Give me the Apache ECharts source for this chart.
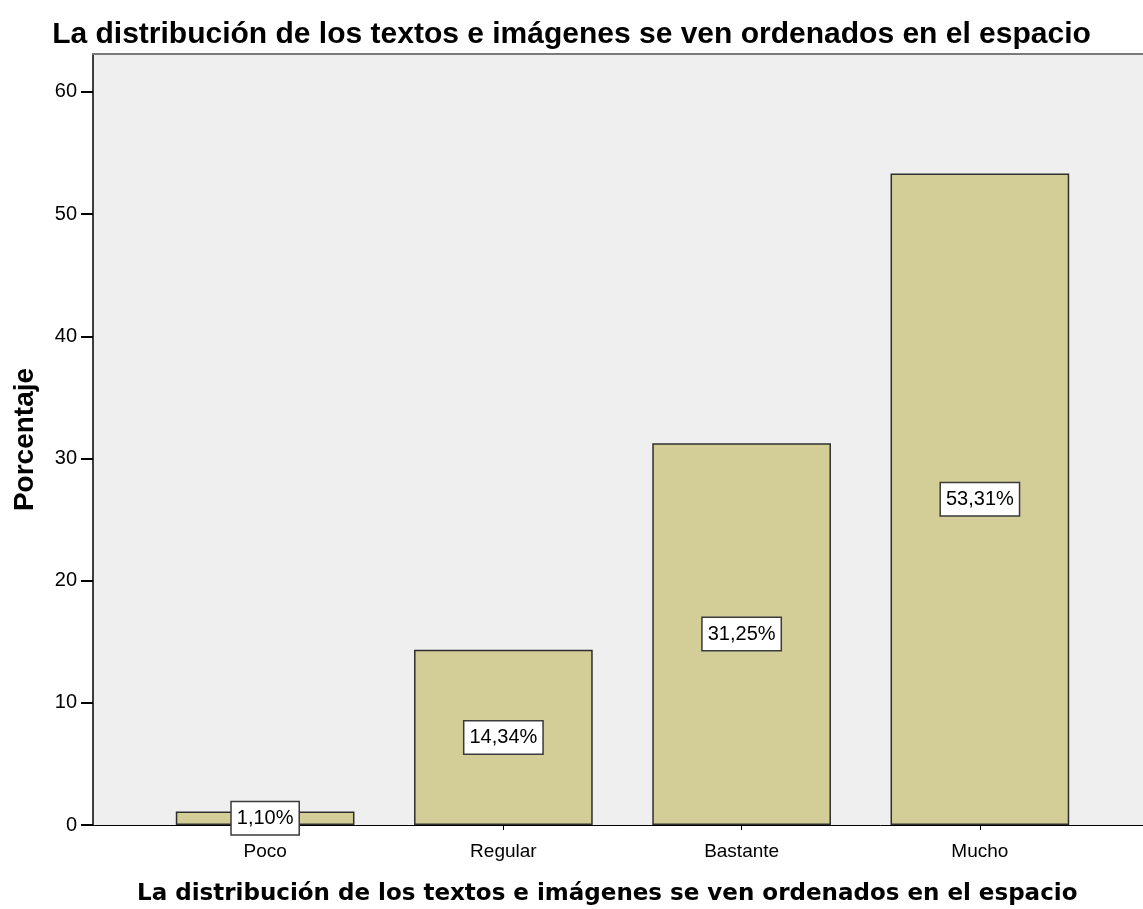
<!DOCTYPE html>
<html>
<head>
<meta charset="utf-8">
<script src="https://cdn.jsdelivr.net/npm/echarts@6/dist/echarts.min.js"></script>
<style>
  html, body { margin: 0; padding: 0; background: #fff; }
  #chart { width: 1143px; height: 909px; }
</style>
</head>
<body>
<div id="chart"></div>
<script>
var categories = ['Poco', 'Regular', 'Bastante', 'Mucho'];
var percentages = [1.10, 14.34, 31.25, 53.31];
var yTicks = [0, 10, 20, 30, 40, 50, 60];

var titleText = 'La distribución de los textos e imágenes se ven ordenados en el espacio';
var yMax = 63.1;

var chart = echarts.init(document.getElementById('chart'));

var option = {
    backgroundColor: '#ffffff',
    animation: false,
    title: {
        text: titleText,
        left: 'center',
        top: 15,
        textStyle: {
            fontFamily: 'Liberation Sans',
            fontWeight: 'bold',
            fontSize: 30,
            color: '#000'
        }
    },
    graphic: [{
        type: 'text',
        left: 137,
        top: 883,
        style: {
            text: titleText,
            font: 'bold 23px "DejaVu Sans"',
            fill: '#000'
        }
    }],
    grid: [{
        // plot background and y axis
        left: 93, right: 0, top: 54, bottom: 84,
        show: true,
        backgroundColor: '#efefef',
        borderWidth: 0
    }, {
        // bars
        left: 146, right: 44, top: 54, bottom: 84
    }],
    xAxis: [{
        gridIndex: 0,
        type: 'value',
        min: 0, max: 1,
        axisLine: { show: true, onZero: false, lineStyle: { color: '#000', width: 1 } },
        axisTick: { show: false },
        axisLabel: { show: false },
        splitLine: { show: false }
    }, {
        gridIndex: 0,
        type: 'value',
        position: 'top',
        min: 0, max: 1,
        axisLine: { show: true, onZero: false, lineStyle: { color: '#7a7a7a', width: 2 } },
        axisTick: { show: false },
        axisLabel: { show: false },
        splitLine: { show: false }
    }, {
        gridIndex: 1,
        type: 'category',
        data: categories,
        axisLine: { show: false },
        axisTick: { show: true, alignWithLabel: true, length: 5, lineStyle: { color: '#000' } },
        axisLabel: {
            margin: 17,
            fontFamily: 'Liberation Sans',
            fontSize: 19,
            color: '#000'
        }
    }],
    yAxis: [{
        gridIndex: 0,
        type: 'value',
        min: 0,
        max: yMax,
        interval: 10,
        name: 'Porcentaje',
        nameLocation: 'middle',
        nameGap: 54,
        nameTextStyle: {
            fontFamily: 'Liberation Sans',
            fontWeight: 'bold',
            fontSize: 28,
            color: '#000'
        },
        axisLine: { show: true, lineStyle: { color: '#000', width: 1.5 } },
        axisTick: { show: true, length: 12, lineStyle: { color: '#000', width: 2 } },
        axisLabel: {
            margin: 16,
            fontFamily: 'Liberation Sans',
            fontSize: 20,
            color: '#000',
            showMaxLabel: false,
            formatter: function (v) { return yTicks.indexOf(v) >= 0 ? String(v) : ''; }
        },
        splitLine: { show: false }
    }, {
        gridIndex: 1,
        type: 'value',
        min: 0,
        max: yMax,
        show: false
    }],
    series: [{
        type: 'bar',
        xAxisIndex: 2,
        yAxisIndex: 1,
        data: percentages,
        barWidth: '75%',
        itemStyle: {
            color: '#d3ce98',
            borderColor: '#2e2e2e',
            borderWidth: 1.5
        },
        label: {
            show: true,
            position: 'inside',
            fontFamily: 'Liberation Sans',
            fontSize: 20,
            color: '#000',
            backgroundColor: '#ffffff',
            borderColor: '#3a3a3a',
            borderWidth: 1.5,
            padding: [6, 5, 6, 5],
            formatter: function (p) {
                return p.value.toFixed(2).replace('.', ',') + '%';
            }
        }
    }]
};

chart.setOption(option);
</script>
</body>
</html>
